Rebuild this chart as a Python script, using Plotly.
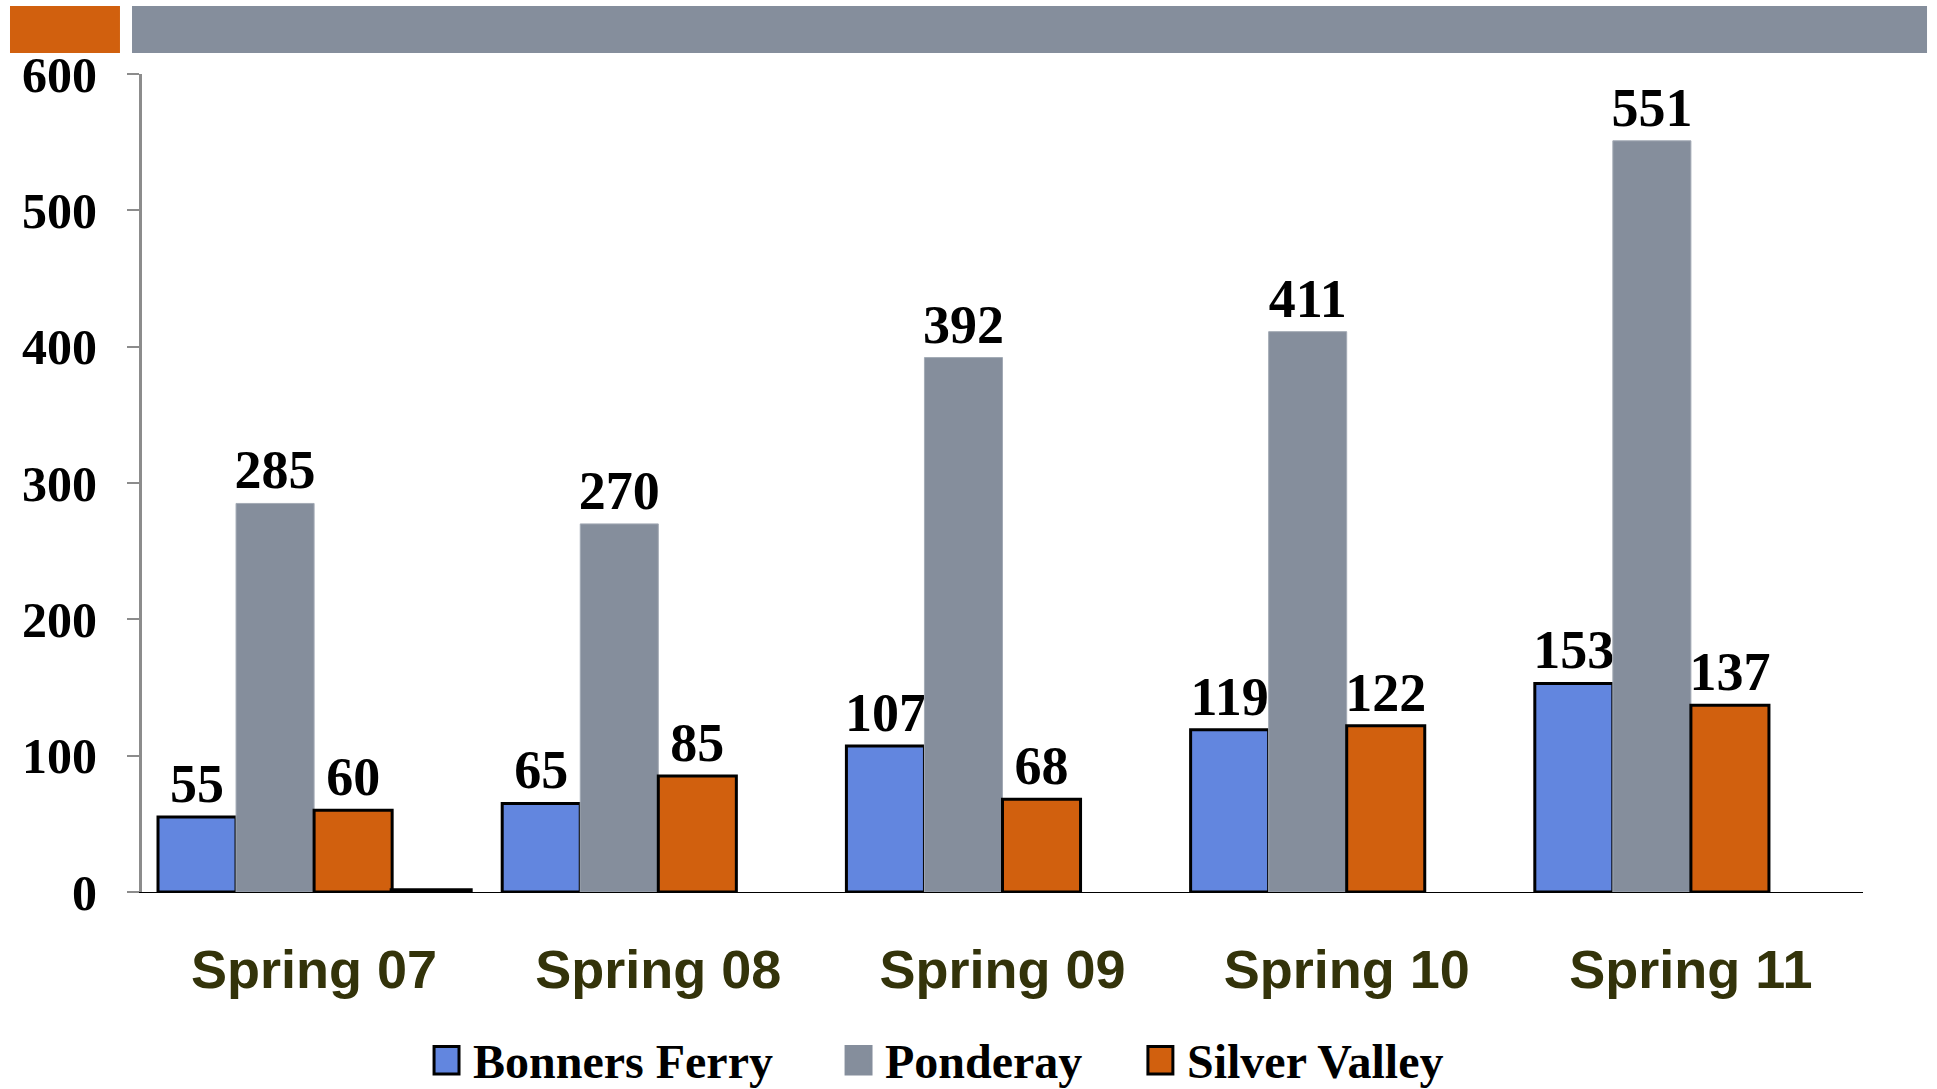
import plotly.graph_objects as go

seasons = ['Spring 07', 'Spring 08', 'Spring 09', 'Spring 10', 'Spring 11']
bonners_ferry = [55, 65, 107, 119, 153]
ponderay = [285, 270, 392, 411, 551]
silver_valley = [60, 85, 68, 122, 137]
extra = [1, None, None, None, None]  # thin black bar next to Spring 07

series_names = ['Bonners Ferry', 'Ponderay', 'Silver Valley']

blue = '#6286DF'
gray = '#858E9C'
orange = '#D1600E'

label_font = dict(family='Liberation Serif', size=54, color='black', weight='bold')

trace0 = go.Bar(x=seasons, y=bonners_ferry, name=series_names[0],
                marker=dict(color=blue, line=dict(color='black', width=3)),
                text=bonners_ferry, textposition='outside', textfont=label_font,
                cliponaxis=False)
trace1 = go.Bar(x=seasons, y=ponderay, name=series_names[1],
                marker=dict(color=gray, line=dict(color='#A3AAB5', width=1)),
                text=ponderay, textposition='outside', textfont=label_font,
                cliponaxis=False)
trace2 = go.Bar(x=seasons, y=silver_valley, name=series_names[2],
                marker=dict(color=orange, line=dict(color='black', width=3)),
                text=silver_valley, textposition='outside', textfont=label_font,
                cliponaxis=False)
trace3 = go.Bar(x=seasons, y=extra, name='',
                marker=dict(color='black', line=dict(color='black', width=5)))

# hand drawn legend below the axis (bigger swatches than plotly's own)
legend_fill = [blue, gray, orange]
legend_edge = ['black', gray, 'black']
swatch_x = [0.1697, 0.4091, 0.5845]
legend_shapes = []
legend_notes = []
for name, fill, edge, sx in zip(series_names, legend_fill, legend_edge, swatch_x):
    legend_shapes.append(dict(type='rect', xref='paper', yref='paper',
                              x0=sx, x1=sx + 0.0145, y0=-0.2225, y1=-0.189,
                              fillcolor=fill, line=dict(color=edge, width=3)))
    legend_notes.append(dict(xref='paper', yref='paper', x=sx + 0.0215, y=-0.2075,
                             xanchor='left', yanchor='middle', showarrow=False,
                             text=name,
                             font=dict(family='Liberation Serif', size=48,
                                       color='black', weight='bold')))

layout = go.Layout(
    width=1937, height=1089,
    margin=dict(l=142, r=74, t=74, b=197),
    paper_bgcolor='white',
    plot_bgcolor='white',
    barmode='group',
    bargap=0.093,
    bargroupgap=0,
    showlegend=False,
    xaxis=dict(
        showline=True, linecolor='black', linewidth=1,
        ticks='', showgrid=False, automargin=False,
        tickfont=dict(family='Liberation Sans', size=54, color='#33330A', weight='bold'),
        ticklabelstandoff=30,
        range=[-0.5, 4.5],
    ),
    yaxis=dict(
        range=[0, 600], dtick=100, automargin=False,
        showline=True, linecolor='#8C8C8C', linewidth=3,
        ticks='outside', ticklen=12, tickwidth=2, tickcolor='#8C8C8C',
        showgrid=False, zeroline=False,
        tickfont=dict(family='Liberation Serif', size=50, color='black', weight='bold'),
        ticklabelstandoff=20,
    ),
    shapes=[
        dict(type='rect', xref='paper', yref='paper',
             x0=-0.0767, x1=-0.0128, y0=1.0257, y1=1.0831,
             fillcolor=orange, line=dict(width=0)),
        dict(type='rect', xref='paper', yref='paper',
             x0=-0.0058, x1=1.0372, y0=1.0257, y1=1.0831,
             fillcolor=gray, line=dict(width=0)),
    ] + legend_shapes,
    annotations=legend_notes,
)

fig = go.Figure(data=[trace0, trace1, trace2, trace3], layout=layout)
fig.update_traces(selector=dict(type='bar'), constraintext='none')
# drop the default page margin so the figure fills the window exactly
fig.write_html('out.html',
               config={'displayModeBar': False},
               post_script="document.body.style.margin='0';document.body.style.overflow='hidden';")
